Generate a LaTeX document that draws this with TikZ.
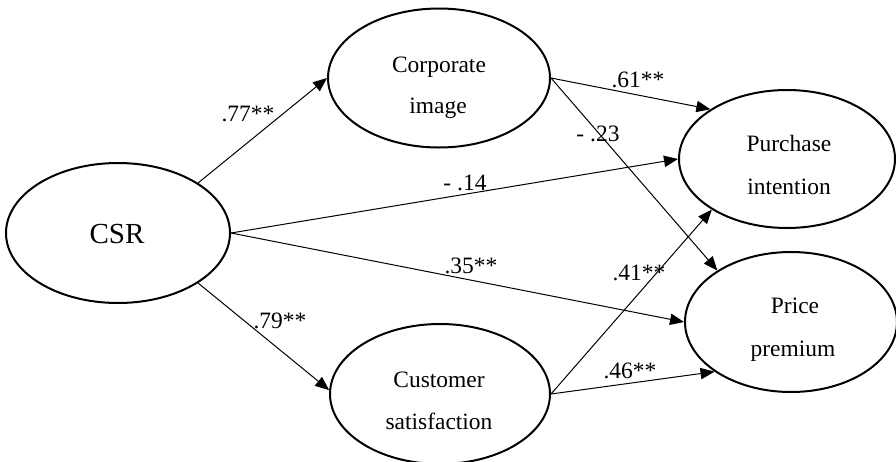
\documentclass[tikz,border=0pt]{standalone}
\usepackage{fontspec}
\setmainfont{Liberation Serif}
\usetikzlibrary{shapes.geometric,arrows.meta}
\tikzset{
  latent/.style={ellipse, draw, line width=1.5pt, inner sep=0pt},
  lbl/.style={anchor=base, inner sep=0pt, font=\fontsize{17.6}{20}\selectfont},
  bigl/.style={anchor=base, inner sep=0pt, font=\fontsize{21.8}{24}\selectfont},
  path/.style={draw, line width=0.75pt, -{Triangle[length=10.5pt,width=8.5pt]}},
}
\begin{document}
\begin{tikzpicture}[x=0.75pt,y=-0.75pt]
\useasboundingbox (0,0) rectangle (896,461);
% latent variables
\node[latent, minimum width=224*0.75pt, minimum height=140*0.75pt] (csr) at (118,233) {};
\node[latent, minimum width=222*0.75pt, minimum height=139*0.75pt] (ci) at (439,78) {};
\node[latent, minimum width=216*0.75pt, minimum height=138*0.75pt] (pi) at (787,159) {};
\node[latent, minimum width=212*0.75pt, minimum height=140*0.75pt] (pp) at (791,322) {};
\node[latent, minimum width=220*0.75pt, minimum height=140*0.75pt] (cs) at (440,394) {};
% texts
\node[bigl] (tcsr) at (117,243) {CSR};
\node[lbl] (tci1) at (439,72) {Corporate};
\node[lbl] (tci2) at (438,113) {image};
\node[lbl] (tpi1) at (789,151) {Purchase};
\node[lbl] (tpi2) at (789,194) {intention};
\node[lbl] (tpp1) at (795,313) {Price};
\node[lbl] (tpp2) at (793,356) {premium};
\node[lbl] (tcs1) at (439,387) {Customer};
\node[lbl] (tcs2) at (439,429) {satisfaction};
% paths
\path[path] (csr.32) -- (ci.west);
\path[path] (csr.east) -- (pi.west);
\path[path] (csr.east) -- (pp.west);
\path[path] (csr.-32) -- (cs.178);
\path[path] (ci.east) -- (pi.147);
\path[path] (ci.east) -- (pp.145);
\path[path] (cs.east) -- (pi.214);
\path[path] (cs.east) -- (pp.213);
% coefficients
\node[lbl] (l77) at (248,121) {.77**};
\node[lbl] (l79) at (280,328) {.79**};
\node[lbl] (l14) at (465,190) {- .14};
\node[lbl] (l35) at (471,273) {.35**};
\node[lbl] (l61) at (638,87) {.61**};
\node[lbl] (l23) at (598,141) {- .23};
\node[lbl] (l41) at (639,280) {.41**};
\node[lbl] (l46) at (630,378) {.46**};
\end{tikzpicture}
\end{document}
